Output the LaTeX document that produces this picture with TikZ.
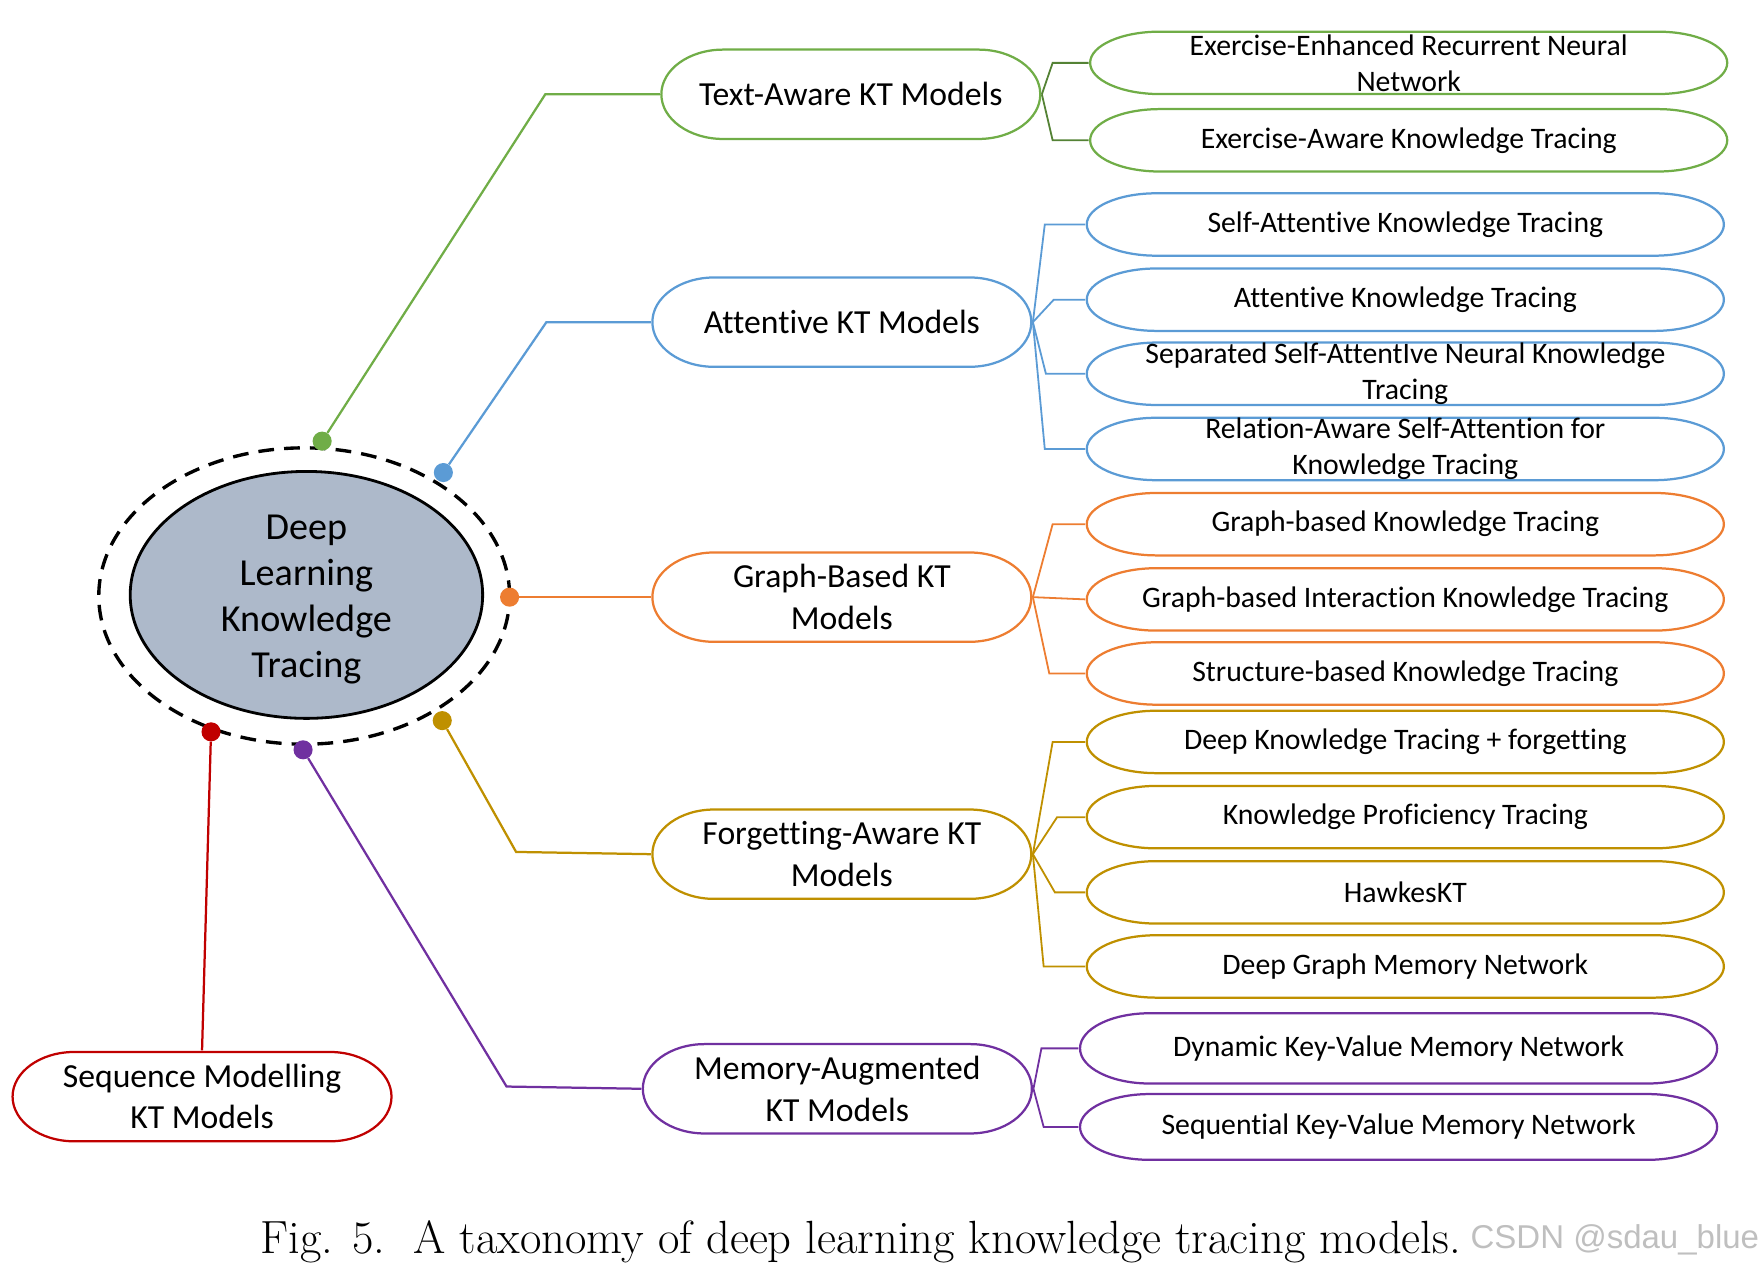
\documentclass[tikz,border=0pt]{standalone}
\usepackage{fontspec}
\setsansfont{Carlito}[Ligatures=NoCommon]
\newfontfamily\markfont{Liberation Sans}
\usetikzlibrary{calc}
\definecolor{ktgreen}{HTML}{70AD47}
\definecolor{ktdeepgreen}{HTML}{548235}
\definecolor{ktblue}{HTML}{5B9BD5}
\definecolor{ktorange}{HTML}{ED7D31}
\definecolor{ktgold}{HTML}{BF9000}
\definecolor{ktpurple}{HTML}{7030A0}
\definecolor{ktred}{HTML}{C00000}
\definecolor{ktcore}{HTML}{ADB9CA}
\tikzset{
  capsule/.style n args={2}{inner sep=0pt, align=center, path picture={
    \draw[#1, line width=2pt]
      let \p1=(path picture bounding box.north east),
          \p2=(path picture bounding box.south west),
          \n1={(\y1-\y2)/2-1.2pt} in
      (\x2+#2+1.2pt,\y1-1.2pt) -- (\x1-#2-1.2pt,\y1-1.2pt)
      arc[start angle=90, end angle=-90, x radius=#2, y radius=\n1]
      -- (\x2+#2+1.2pt,\y2+1.2pt)
      arc[start angle=270, end angle=90, x radius=#2, y radius=\n1] -- cycle;}},
  model/.style={capsule={#1}{55pt}, minimum width=340pt, minimum height=82pt,
    font=\sffamily\fontsize{30}{37}\selectfont},
  leaf/.style={capsule={#1}{62pt}, minimum width=570pt, minimum height=58pt,
    font=\sffamily\fontsize{26.5}{32}\selectfont},
  knob/.style={circle, fill=#1, inner sep=0pt, minimum size=17pt},
  trunk/.style={#1, line width=2pt},
  branch/.style={#1, line width=1.6pt}
}
\begin{document}
\begin{tikzpicture}[x=1pt, y=1pt]
\useasboundingbox (0,0) rectangle (1568,-1126);
\draw[fill=ktcore, line width=2.5pt] (273,-530) ellipse [x radius=157, y radius=110];
\draw[line width=3pt, dash pattern=on 14pt off 9pt] (271,-531) ellipse [x radius=183, y radius=132];
\node[align=center, font=\sffamily\fontsize{34}{41}\selectfont] (dlkt) at (273,-534) {Deep\\Learning\\Knowledge\\Tracing};

\node[knob=ktgreen] (pg) at (287,-393) {};
\node[knob=ktblue] (pb) at (395,-421) {};
\node[knob=ktorange] (po) at (454,-532) {};
\node[knob=ktgold] (py) at (394,-642) {};
\node[knob=ktpurple] (pp) at (270,-668) {};
\node[knob=ktred] (pr) at (188,-652) {};

\node[model=ktgreen] (tx) at (758,-84) {Text-Aware KT Models};
\node[model=ktblue] (at) at (750,-287) {Attentive KT Models};
\node[model=ktorange] (gb) at (750,-532) {Graph-Based KT\\Models};
\node[model=ktgold] (fa) at (750,-761) {Forgetting-Aware KT\\Models};
\node[model=ktpurple, minimum width=349pt] (ma) at (746,-970) {Memory-Augmented\\KT Models};
\node[model=ktred] (seq) at (180,-977) {Sequence Modelling\\KT Models};

\node[leaf=ktgreen] (ee) at (1255,-56) {Exercise-Enhanced Recurrent Neural\\Network};
\node[leaf=ktgreen] (ea) at (1255,-125) {Exercise-Aware Knowledge Tracing};
\node[leaf=ktblue] (sa) at (1252,-200) {Self-Attentive Knowledge Tracing};
\node[leaf=ktblue] (ak) at (1252,-267) {Attentive Knowledge Tracing};
\node[leaf=ktblue] (ss) at (1252,-333) {Separated Self-AttentIve Neural Knowledge\\Tracing};
\node[leaf=ktblue] (ra) at (1252,-400) {Relation-Aware Self-Attention for\\Knowledge Tracing};
\node[leaf=ktorange] (gk) at (1252,-467) {Graph-based Knowledge Tracing};
\node[leaf=ktorange] (gi) at (1252,-534) {Graph-based Interaction Knowledge Tracing};
\node[leaf=ktorange] (sk) at (1252,-600) {Structure-based Knowledge Tracing};
\node[leaf=ktgold] (df) at (1252,-661) {Deep Knowledge Tracing + forgetting};
\node[leaf=ktgold] (kp) at (1252,-728) {Knowledge Proficiency Tracing};
\node[leaf=ktgold] (hk) at (1252,-795) {HawkesKT};
\node[leaf=ktgold] (dg) at (1252,-861) {Deep Graph Memory Network};
\node[leaf=ktpurple, minimum height=65pt] (dk) at (1246,-934) {Dynamic Key-Value Memory Network};
\node[leaf=ktpurple, minimum height=61pt] (sv) at (1246,-1004) {Sequential Key-Value Memory Network};

\draw[trunk=ktgreen] (pg) -- ([xshift=-102]tx.west) -- (tx.west);
\draw[trunk=ktblue] (pb) -- ([xshift=-93]at.west) -- (at.west);
\draw[trunk=ktorange] (po) -- (gb.west);
\draw[trunk=ktgold] (py) -- ([xshift=-120,yshift=2]fa.west) -- (fa.west);
\draw[trunk=ktpurple] (pp) -- ([xshift=-120,yshift=2]ma.west) -- (ma.west);
\draw[trunk=ktred] (pr) -- (seq.north);

\foreach \leaf/\off in {ee/32, ea/32}
  \draw[branch=ktdeepgreen] (tx.east) -- ([xshift=-\off]\leaf.west) -- (\leaf.west);
\foreach \leaf/\off in {sa/36, ak/28, ss/35, ra/36}
  \draw[branch=ktblue] (at.east) -- ([xshift=-\off]\leaf.west) -- (\leaf.west);
\foreach \leaf/\off in {gk/29, gi/0, sk/32}
  \draw[branch=ktorange] (gb.east) -- ([xshift=-\off]\leaf.west) -- (\leaf.west);
\foreach \leaf/\off in {df/29, kp/25, hk/27, dg/37}
  \draw[branch=ktgold] (fa.east) -- ([xshift=-\off]\leaf.west) -- (\leaf.west);
\foreach \leaf/\off in {dk/33, sv/31}
  \draw[branch=ktpurple] (ma.east) -- ([xshift=-\off]\leaf.west) -- (\leaf.west);

\node[anchor=base west, inner sep=0pt, font=\rmfamily\fontsize{41.5}{48}\selectfont] (cap) at (232,-1117) {Fig. 5.\ \ A taxonomy of deep learning knowledge tracing models.};
\node[anchor=base west, inner sep=0pt, text=black!25, font=\markfont\fontsize{29.4}{35}\selectfont] (wm) at (1310,-1112) {CSDN @sdau\_blue};
\end{tikzpicture}
\end{document}
